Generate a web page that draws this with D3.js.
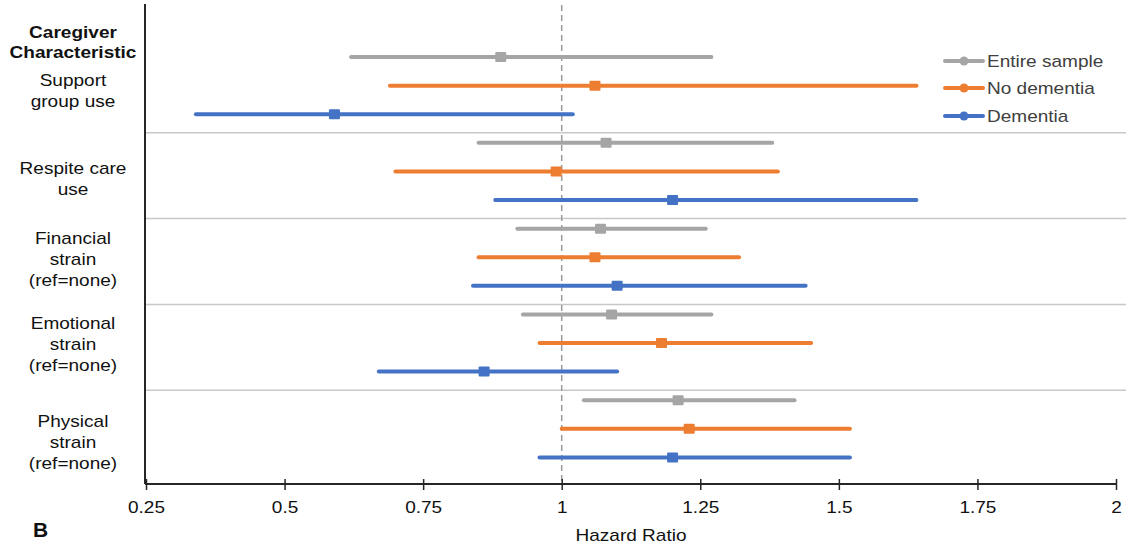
<!DOCTYPE html>
<html>
<head>
<meta charset="utf-8">
<script src="https://cdn.jsdelivr.net/npm/d3@7"></script>
<style>
  html, body { margin: 0; padding: 0; background: #fff; }
  svg { display: block; font-family: "Liberation Sans", Arial, sans-serif; }
</style>
</head>
<body>
<svg id="chart" width="1131" height="546"></svg>
<script>
// ---------------- DATA ----------------
const groupLabels = [
  ["Support", "group use"],
  ["Respite care", "use"],
  ["Financial", "strain", "(ref=none)"],
  ["Emotional", "strain", "(ref=none)"],
  ["Physical", "strain", "(ref=none)"]
];
const seriesNames = ["Entire sample", "No dementia", "Dementia"];
const seriesColors = ["#A5A5A5", "#ED7D31", "#4472C4"];

// hazard ratios and 95% CI per group (Support, Respite, Financial, Emotional, Physical)
const entireHR = [0.89, 1.08, 1.07, 1.09, 1.21];
const entireLo = [0.62, 0.85, 0.92, 0.93, 1.04];
const entireHi = [1.27, 1.38, 1.26, 1.27, 1.42];

const noDemHR = [1.06, 0.99, 1.06, 1.18, 1.23];
const noDemLo = [0.69, 0.70, 0.85, 0.96, 1.00];
const noDemHi = [1.64, 1.39, 1.32, 1.45, 1.52];

const demHR = [0.59, 1.20, 1.10, 0.86, 1.20];
const demLo = [0.34, 0.88, 0.84, 0.67, 0.96];
const demHi = [1.02, 1.64, 1.44, 1.10, 1.52];

const xTicks = [0.25, 0.5, 0.75, 1, 1.25, 1.5, 1.75, 2];
const headerLines = ["Caregiver", "Characteristic"];
const xTitle = "Hazard Ratio";
const panelLetter = "B";

// ---------------- LAYOUT ----------------
const svg = d3.select("#chart");
const STRETCH = 1.12;      // horizontal text stretch seen in the reference
const FONT = 17;
const plotLeft = 145, plotRight = 1116, plotTop = 4, plotBottom = 484;

const x = d3.scaleLinear().domain([0.25, 2]).range([plotLeft + 1, plotRight]);
// row index: group g, series s -> 3g + s
const y = d3.scaleLinear().domain([-1.82, 14.93]).range([5, plotBottom]);

const seriesData = [
  { hr: entireHR, lo: entireLo, hi: entireHi },
  { hr: noDemHR, lo: noDemLo, hi: noDemHi },
  { hr: demHR, lo: demLo, hi: demHi }
];
const rows = [];
groupLabels.forEach((g, gi) => {
  seriesData.forEach((s, si) => {
    rows.push({ g: gi, s: si, idx: gi * 3 + si, hr: s.hr[gi], lo: s.lo[gi], hi: s.hi[gi] });
  });
});

function stretchedText(sel, cx, cy, txt, opts = {}) {
  return sel.append("text")
    .attr("transform", `translate(${cx},${cy}) scale(${STRETCH},1)`)
    .attr("text-anchor", opts.anchor || "middle")
    .attr("dy", "0.35em")
    .attr("font-size", opts.size || FONT)
    .attr("font-weight", opts.weight || "normal")
    .attr("fill", opts.fill || "#111")
    .text(txt);
}

// separators between groups
const sepIdx = [2.65, 5.65, 8.65, 11.65];
svg.append("g").selectAll("line").data(sepIdx).join("line")
  .attr("x1", plotLeft).attr("x2", x(2) + 10)
  .attr("y1", d => y(d)).attr("y2", d => y(d))
  .attr("stroke", "#C8C8C8").attr("stroke-width", 1.5);

// reference dashed line at HR = 1
svg.append("line")
  .attr("x1", x(1)).attr("x2", x(1))
  .attr("y1", plotTop + 1).attr("y2", plotBottom)
  .attr("stroke", "#9A9A9A").attr("stroke-width", 1.5)
  .attr("stroke-dasharray", "6,4");

// CI lines
svg.append("g").selectAll("line").data(rows).join("line")
  .attr("x1", d => x(d.lo)).attr("x2", d => x(d.hi))
  .attr("y1", d => y(d.idx)).attr("y2", d => y(d.idx))
  .attr("stroke", d => seriesColors[d.s])
  .attr("stroke-width", 4)
  .attr("stroke-linecap", "round");

// point estimates (squares)
svg.append("g").selectAll("rect").data(rows).join("rect")
  .attr("x", d => x(d.hr) - 5.5).attr("y", d => y(d.idx) - 5)
  .attr("width", 11).attr("height", 10)
  .attr("rx", 1)
  .attr("fill", d => seriesColors[d.s]);

// y axis line
svg.append("line")
  .attr("x1", plotLeft).attr("x2", plotLeft)
  .attr("y1", plotTop).attr("y2", plotBottom)
  .attr("stroke", "#262626").attr("stroke-width", 2);

// x axis
const xAxis = d3.axisBottom(x).tickValues(xTicks).tickFormat(d3.format("")).tickSizeOuter(0).tickSize(5);
const gx = svg.append("g").attr("transform", `translate(0,${plotBottom})`).call(xAxis);
gx.select(".domain").attr("d", `M${plotLeft},0H${plotRight}`).attr("stroke", "#262626").attr("stroke-width", 2);
gx.selectAll(".tick line").attr("y1", -5).attr("y2", 6).attr("stroke", "#262626").attr("stroke-width", 1.5);
gx.selectAll(".tick text")
  .attr("y", 23).attr("dy", "0.35em")
  .attr("font-size", FONT)
  .attr("font-family", "Liberation Sans, Arial, sans-serif")
  .attr("fill", "#111")
  .attr("transform", `scale(${STRETCH},1)`);

// x axis title
stretchedText(svg, 631, 535, xTitle);

// panel letter
svg.append("text")
  .attr("x", 33).attr("y", 537)
  .attr("font-size", 21).attr("font-weight", "bold").attr("fill", "#111")
  .text(panelLetter);

// header
const labelX = 73;
headerLines.forEach((t, i) => stretchedText(svg, labelX, 32 + i * 20.5, t, { weight: "bold" }));

// group labels
const labelNudge = [5, 7, 2, 1, 13];
const lineH = 21;
groupLabels.forEach((lines, gi) => {
  const cy = y(gi * 3 + 1) + labelNudge[gi];
  const start = cy - (lines.length - 1) * lineH / 2;
  lines.forEach((t, li) => stretchedText(svg, labelX, start + li * lineH, t));
});

// legend
const legendY = [61, 88, 116];
const lg = svg.append("g");
seriesNames.forEach((name, i) => {
  lg.append("line")
    .attr("x1", 945).attr("x2", 983)
    .attr("y1", legendY[i]).attr("y2", legendY[i])
    .attr("stroke", seriesColors[i]).attr("stroke-width", 4).attr("stroke-linecap", "round");
  lg.append("circle")
    .attr("cx", 964).attr("cy", legendY[i]).attr("r", 4.5)
    .attr("fill", seriesColors[i]);
  stretchedText(lg, 987, legendY[i], name, { anchor: "start", fill: "#404040" });
});
</script>
</body>
</html>
